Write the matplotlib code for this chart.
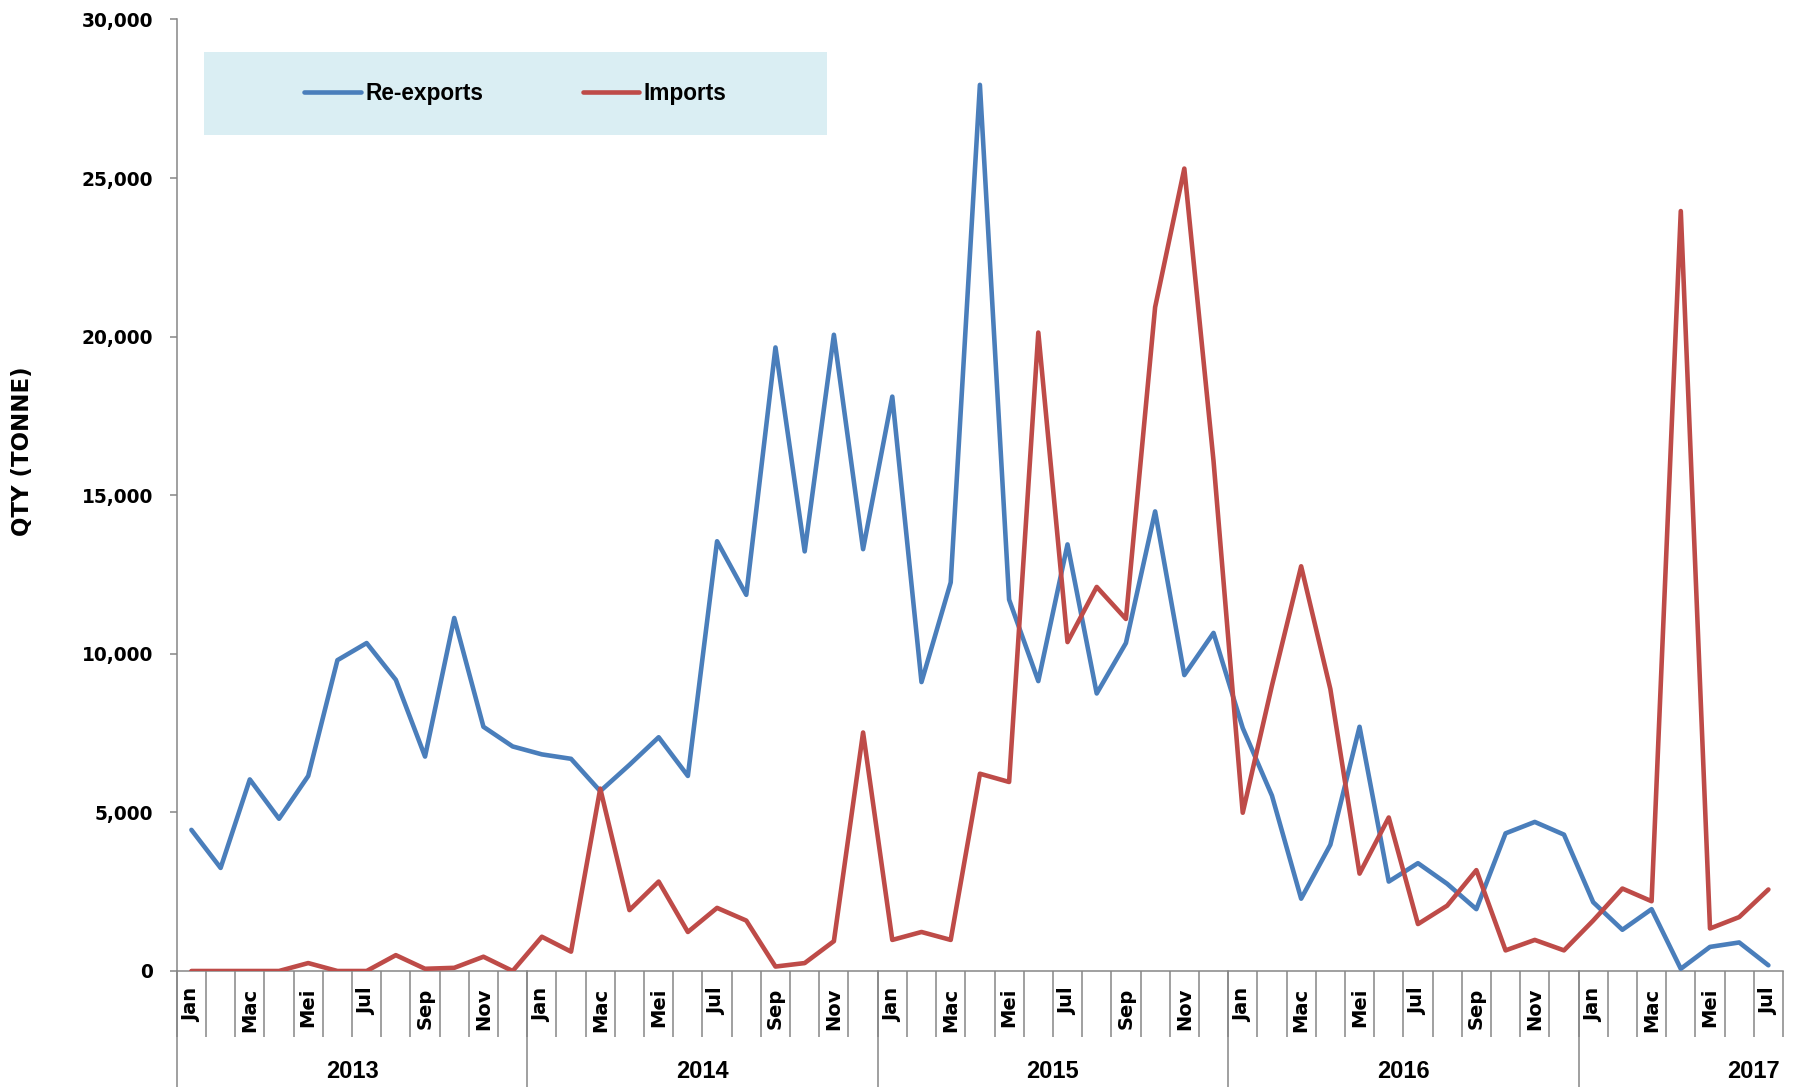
import matplotlib
matplotlib.use("Agg")
import matplotlib.pyplot as plt
import matplotlib.transforms as mtransforms
from matplotlib.patches import Rectangle
from matplotlib.ticker import FuncFormatter
import numpy as np

# monthly quantities in tonnes, Jan 2013 - Jul 2017
months = ['Jan', 'Feb', 'Mac', 'Apr', 'Mei', 'Jun', 'Jul', 'Ogo', 'Sep', 'Okt', 'Nov', 'Dis']
years = ['2013', '2014', '2015', '2016', '2017']

re_exports = [4450, 3250, 6040, 4800, 6150, 9800, 10340, 9180, 6760, 11130, 7700, 7080,
              6830, 6690, 5670, 6500, 7370, 6150, 13550, 11860, 19660, 13230, 20060, 13300,
              18110, 9110, 12250, 27940, 11710, 9140, 13450, 8750, 10340, 14490, 9330, 10660,
              7660, 5530, 2280, 3980, 7700, 2820, 3400, 2750, 1950, 4340, 4700, 4300,
              2170, 1300, 1950, 70, 760, 900, 180]
imports = [0, 0, 0, 0, 250, 0, 0, 500, 70, 100, 450, 0,
           1080, 610, 5750, 1920, 2820, 1230, 1990, 1590, 140, 250, 940, 7520,
           980, 1230, 980, 6220, 5960, 20130, 10370, 12110, 11100, 20930, 25300, 16080,
           4990, 9000, 12760, 8890, 3070, 4840, 1480, 2060, 3180, 650, 980, 650,
           1590, 2600, 2200, 23960, 1340, 1700, 2570]

n = len(re_exports)
x = np.arange(n)
month_labels = [months[i % 12] if i % 2 == 0 else '' for i in range(n)]

W, H = 1797, 1087
fig = plt.figure(figsize=(W / 100, H / 100), dpi=100)
ax_l, ax_r, ax_t, ax_b = 176.8, 1783, 19.5, 971
ax = fig.add_axes([ax_l / W, 1 - ax_b / H, (ax_r - ax_l) / W, (ax_b - ax_t) / H])

blue = '#4A7EBB'
red = '#BE4B48'
grey = '#868686'

ax.plot(x, re_exports, color=blue, lw=3.3, solid_joinstyle='round', solid_capstyle='round',
        label='Re-exports', zorder=3)
ax.plot(x, imports, color=red, lw=3.3, solid_joinstyle='round', solid_capstyle='round',
        label='Imports', zorder=3)

ax.set_xlim(-0.5, n - 0.5)
ax.set_ylim(0, 30000)

for s in ['top', 'right']:
    ax.spines[s].set_visible(False)
for s in ['left', 'bottom']:
    ax.spines[s].set_color(grey)
    ax.spines[s].set_linewidth(1.1)

# y axis
ax.set_yticks(np.arange(0, 30001, 5000))
ax.yaxis.set_major_formatter(FuncFormatter(lambda v, p: f'{int(v):,}'))
ax.tick_params(axis='y', direction='out', length=5, width=1.1, color=grey, pad=12)
for lab in ax.get_yticklabels():
    lab.set_fontfamily('DejaVu Sans')
    lab.set_fontweight('bold')
    lab.set_fontsize(13.4)

# x axis: month separators as major ticks, labels as minor ticks
ax.set_xticks(np.arange(-0.5, n, 1.0))
ax.set_xticklabels([])
ax.tick_params(axis='x', which='major', direction='out', length=47.5, width=1.1, color=grey)
ax.set_xticks(x, minor=True)
ax.set_xticklabels(month_labels, minor=True, rotation=90, fontsize=14,
                   fontweight='bold', fontfamily='DejaVu Sans')
ax.tick_params(axis='x', which='minor', length=0, pad=12)

# year separators and year labels
trans = mtransforms.blended_transform_factory(ax.transData, ax.transAxes)
bottom_frac = -(H - ax_b) / (ax_b - ax_t)
year_y = -(1071 - ax_b) / (ax_b - ax_t)
for i, yr in enumerate(years):
    start = 12 * i
    end = min(12 * i + 11, n - 1)
    ax.plot([start - 0.5, start - 0.5], [0, bottom_frac], transform=trans, color=grey,
            lw=1.1, clip_on=False)
    if end - start == 11:
        ax.text((start + end) / 2, year_y, yr, transform=trans, ha='center', va='center',
                fontsize=17, fontweight='bold', fontfamily='Liberation Sans')
    else:
        ax.text(end + 0.4, year_y, yr, transform=trans, ha='right', va='center',
                fontsize=17, fontweight='bold', fontfamily='Liberation Sans')

# legend box
rx0 = (204 - ax_l) / (ax_r - ax_l)
rx1 = (827 - ax_l) / (ax_r - ax_l)
ry0 = (ax_b - 135) / (ax_b - ax_t)
ry1 = (ax_b - 51.6) / (ax_b - ax_t)
ax.add_patch(Rectangle((rx0, ry0), rx1 - rx0, ry1 - ry0, transform=ax.transAxes,
                       facecolor='#DAEEF3', edgecolor='none', zorder=1))
leg = ax.legend(loc='center', bbox_to_anchor=((rx0 + rx1) / 2, (ry0 + ry1) / 2),
                ncol=2, frameon=False, handlelength=2.5, handletextpad=0.2,
                columnspacing=4.4, prop={'family': 'Liberation Sans', 'weight': 'bold',
                                         'size': 16.3})
leg.set_zorder(4)

fig.text(23 / W, 1 - 451 / H, 'QTY (TONNE)', rotation=90, ha='center', va='center',
         fontsize=16.5, fontweight='bold', fontfamily='DejaVu Sans')

fig.savefig('out.png', dpi=100)
